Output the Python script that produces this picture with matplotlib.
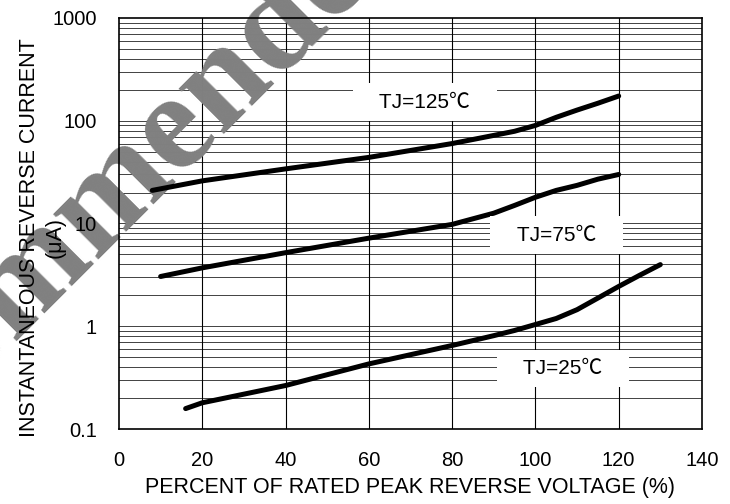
import matplotlib
matplotlib.use('Agg')
import matplotlib.pyplot as plt
import numpy as np

plt.rcParams['font.family'] = ['Liberation Sans', 'Noto Sans CJK SC', 'DejaVu Sans']

# reverse current curves
x125 = [8, 20, 40, 60, 80, 90, 95, 100, 105, 110, 115, 120]
y125 = [21, 26, 34, 44, 60, 72, 79, 90, 108, 127, 148, 174]
x75 = [10, 20, 40, 60, 80, 90, 95, 100, 105, 110, 115, 120]
y75 = [3.05, 3.7, 5.2, 7.2, 9.8, 12.6, 15, 18, 21, 23.5, 27, 30]
x25 = [16, 20, 40, 60, 80, 90, 95, 100, 105, 110, 115, 120, 125, 130]
y25 = [0.158, 0.18, 0.265, 0.43, 0.65, 0.81, 0.91, 1.04, 1.19, 1.45, 1.88, 2.44, 3.13, 3.98]

labels = ['TJ=125℃', 'TJ=75℃', 'TJ=25℃']
label_pos = [(73.4, 152), (105.1, 7.7), (106.6, 0.388)]

xticks = [0, 20, 40, 60, 80, 100, 120, 140]
yticks = [0.1, 1, 10, 100, 1000]
ytick_labels = ['0.1', '1', '10', '100', '1000']

fig = plt.figure(figsize=(7.3, 5.04), dpi=100)
ax = fig.add_axes([0.163, 0.1488, 0.7986, 0.8155])
ax.set_yscale('log')
ax.set_xlim(0, 140)
ax.set_ylim(0.1, 1000)

# grid drawn by hand so the watermark can sit between grid and curves
for dec in [0.1, 1, 10, 100]:
    for k in range(1, 10):
        ax.axhline(dec * k, color='#222222', lw=0.6, zorder=1)
for xv in xticks[1:-1]:
    ax.axvline(xv, color='black', lw=0.8, zorder=1)

ax.set_xticks(xticks)
ax.set_yticks(yticks)
ax.set_yticklabels(ytick_labels)
ax.yaxis.set_minor_locator(matplotlib.ticker.NullLocator())
ax.tick_params(axis='both', length=0, labelsize=14.5)
ax.tick_params(axis='x', pad=16)
ax.tick_params(axis='y', pad=16)
ax.xaxis.set_zorder(2.6)
ax.yaxis.set_zorder(2.6)
for s in ax.spines.values():
    s.set_linewidth(1.2)

for xs, ys in [(x125, y125), (x75, y75), (x25, y25)]:
    ax.plot(xs, ys, color='black', lw=3.6, solid_capstyle='round', zorder=3)

for txt, (tx, ty) in zip(labels, label_pos):
    ax.text(tx, ty, '   ' + txt + '   ', ha='center', va='center', fontsize=15,
            bbox=dict(facecolor='white', edgecolor='none', boxstyle='square,pad=0.45'),
            zorder=4)

ax.set_xlabel('PERCENT OF RATED PEAK REVERSE VOLTAGE (%)', fontsize=15.5, labelpad=5)
ax.set_ylabel('INSTANTANEOUS REVERSE CURRENT\n(μA)', fontsize=15.5, linespacing=1.25)
ax.yaxis.set_label_coords(-0.092, 0.465)

# watermark
ax.text(0.13, 0.575, 'Recommended', transform=fig.transFigure, rotation=45,
        rotation_mode='anchor', ha='center', va='center', fontsize=100,
        family='Liberation Serif', fontweight='bold', color='#808080',
        zorder=2, clip_on=False)

plt.savefig('out.png', dpi=100)
